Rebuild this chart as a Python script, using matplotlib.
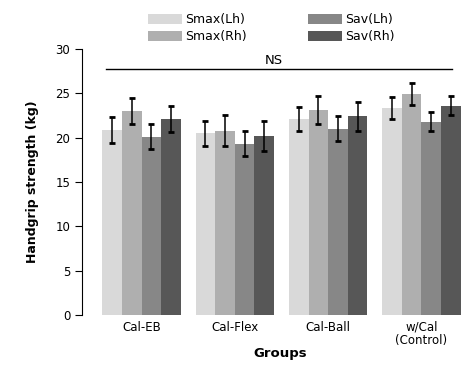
import numpy as np
from matplotlib import pyplot as plt

groups = ['Cal-EB', 'Cal-Flex', 'Cal-Ball', 'w/Cal\n(Control)']
series = ['Smax(Lh)', 'Smax(Rh)', 'Sav(Lh)', 'Sav(Rh)']
colores = ['#d9d9d9', '#afafaf', '#878787', '#575757']

smaxLh = [20.9, 20.5, 22.1, 23.3]
smaxRh = [23.0, 20.8, 23.1, 24.9]
savLh = [20.1, 19.3, 21.0, 21.8]
savRh = [22.1, 20.2, 22.4, 23.6]

errSmaxLh = [1.45, 1.4, 1.4, 1.25]
errSmaxRh = [1.5, 1.75, 1.6, 1.25]
errSavLh = [1.4, 1.4, 1.4, 1.05]
errSavRh = [1.45, 1.7, 1.6, 1.05]

valores = [smaxLh, smaxRh, savLh, savRh]
errores = [errSmaxLh, errSmaxRh, errSavLh, errSavRh]

plt.rcParams['font.family'] = 'DejaVu Sans'

fig = plt.figure(figsize=(4.76, 3.68), dpi=100)
ax = fig.add_axes([82 / 476, 1 - 315 / 368, (470 - 82) / 476, (315 - 49) / 368])

x = np.arange(len(groups))
w = 0.21
for i in range(len(series)):
    pos = x + (i - 1.5) * w
    ax.bar(pos, valores[i], width=w, color=colores[i], label=series[i], linewidth=0)
    ax.errorbar(pos, valores[i], yerr=errores[i], fmt='none', ecolor='black',
                elinewidth=1.1, capsize=2.2, capthick=2)

# Linea NS
ax.plot([-0.38, 3.325], [27.7, 27.7], color='black', lw=1)
ax.text(1.42, 28.0, 'NS', ha='center', va='bottom', fontsize=9.5)

ax.set_ylim(0, 30)
ax.set_xlim(-0.638, 3.52)
ax.set_yticks([0, 5, 10, 15, 20, 25, 30])
ax.set_xticks(x)
ax.set_xticklabels(groups, fontsize=8.5, linespacing=1.0)
ax.tick_params(axis='x', length=0, pad=4)
ax.tick_params(axis='y', labelsize=8.5, length=5, direction='out')
for s in ['top', 'right', 'bottom']:
    ax.spines[s].set_visible(False)

ax.set_ylabel('Handgrip strength (kg)', fontsize=9, fontweight='bold', labelpad=12)
fig.text(280 / 476, 1 - 353 / 368, 'Groups', fontsize=9.5, fontweight='bold',
         ha='center', va='center')

handles, labels = ax.get_legend_handles_labels()
fig.legend(handles, labels, loc='upper left', bbox_to_anchor=(148 / 476, 1 - 13.5 / 368),
           ncol=2, frameon=False, fontsize=9, handlelength=2.7, handleheight=0.9,
           handletextpad=0.3, columnspacing=4.85, labelspacing=0.3, borderpad=0,
           borderaxespad=0)

fig.savefig('out.png', dpi=100)
